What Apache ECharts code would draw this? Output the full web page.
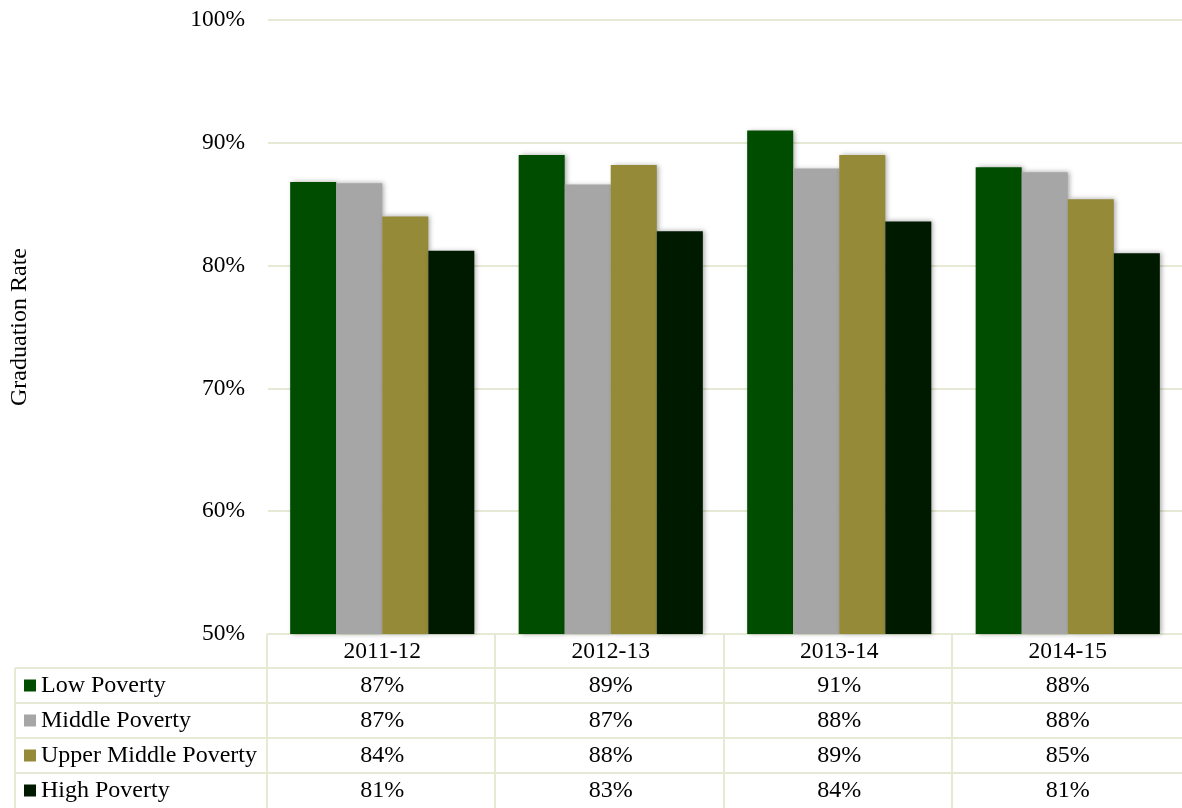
<!DOCTYPE html>
<html>
<head>
<meta charset="utf-8">
<script src="https://cdn.jsdelivr.net/npm/echarts@6/dist/echarts.min.js"></script>
<style>
html,body{margin:0;padding:0;background:#fff;}
#chart{width:1182px;height:808px;}
</style>
</head>
<body>
<div id="chart"></div>
<script>
// ---- data ----
const categories = ['2011-12', '2012-13', '2013-14', '2014-15'];
const seriesNames = ['Low Poverty', 'Middle Poverty', 'Upper Middle Poverty', 'High Poverty'];
const lowPoverty = [86.8, 89.0, 91.0, 88.0];
const middlePoverty = [86.7, 86.6, 87.9, 87.6];
const upperMiddlePoverty = [84.0, 88.2, 89.0, 85.4];
const highPoverty = [81.2, 82.8, 83.6, 81.0];
const yTicks = [50, 60, 70, 80, 90, 100];
const seriesColors = ['#004d00', '#a6a6a6', '#948a38', '#001a00'];

const allSeries = [lowPoverty, middlePoverty, upperMiddlePoverty, highPoverty];
const FONT = "'Liberation Serif', 'Times New Roman', serif";
const LINE = '#e4ead3';

const GRID_LEFT = 265, GRID_TOP = 20, GRID_BOTTOM = 174, GRID_WIDTH = 923;
const ROW_H = 35, TABLE_TOP = 634, HEADER_H = 34, LABEL_LEFT = 15;

const chart = echarts.init(document.getElementById('chart'));
chart.setOption({
  animation: false,
  backgroundColor: '#fff',
  grid: { left: GRID_LEFT, width: GRID_WIDTH, top: GRID_TOP, bottom: GRID_BOTTOM, containLabel: false },
  xAxis: {
    type: 'category',
    data: categories,
    axisLine: { show: true, lineStyle: { color: LINE, width: 2 } },
    axisTick: { show: false },
    axisLabel: { color: '#000', fontFamily: FONT, fontSize: 23.5, margin: 6 }
  },
  yAxis: {
    type: 'value',
    min: yTicks[0],
    max: yTicks[yTicks.length - 1],
    interval: yTicks[1] - yTicks[0],
    name: 'Graduation Rate',
    nameLocation: 'middle',
    nameGap: 236,
    nameRotate: 90,
    nameTextStyle: { color: '#000', fontFamily: FONT, fontSize: 24 },
    axisLine: { show: false },
    axisTick: { show: false },
    splitLine: { lineStyle: { color: LINE, width: 2 } },
    axisLabel: { color: '#000', fontFamily: FONT, fontSize: 23.5, margin: 23, formatter: v => v + '%' }
  },
  series: seriesNames.map((name, i) => ({
    name: name,
    type: 'bar',
    data: allSeries[i],
    barGap: '0%',
    barCategoryGap: '19.4%',
    itemStyle: {
      color: seriesColors[i],
      shadowBlur: 5,
      shadowColor: 'rgba(0,0,0,0.35)',
      shadowOffsetX: 2,
      shadowOffsetY: 0
    }
  }))
});

// ---- data table below the chart ----
const W = 1182;
const graphics = [];
const colCenters = categories.map((c, i) => chart.convertToPixel({ xAxisIndex: 0 }, i));
const catW = GRID_WIDTH / categories.length;
// horizontal lines
for (let r = 0; r < seriesNames.length; r++) {
  const y = TABLE_TOP + HEADER_H + r * ROW_H;
  graphics.push({ type: 'line', shape: { x1: LABEL_LEFT, y1: y, x2: W, y2: y }, style: { stroke: LINE, lineWidth: 2 } });
}
// vertical lines
graphics.push({ type: 'line', shape: { x1: LABEL_LEFT, y1: TABLE_TOP + HEADER_H, x2: LABEL_LEFT, y2: 808 }, style: { stroke: LINE, lineWidth: 2 } });
for (let c = 0; c < categories.length; c++) {
  const x = Math.round(colCenters[c] - catW / 2);
  graphics.push({ type: 'line', shape: { x1: x, y1: TABLE_TOP, x2: x, y2: 808 }, style: { stroke: LINE, lineWidth: 2 } });
}
// row labels and values
seriesNames.forEach((name, r) => {
  const cy = TABLE_TOP + HEADER_H + r * ROW_H + ROW_H / 2;
  graphics.push({ type: 'rect', shape: { x: 24, y: cy - 6, width: 12, height: 12 }, style: { fill: seriesColors[r] } });
  graphics.push({ type: 'text', x: 41, y: cy, style: { text: name, fill: '#000', font: '24px ' + FONT, verticalAlign: 'middle', textVerticalAlign: 'middle' } });
  allSeries[r].forEach((v, c) => {
    graphics.push({ type: 'text', x: colCenters[c], y: cy, style: { text: Math.round(v) + '%', fill: '#000', font: '24px ' + FONT, align: 'center', verticalAlign: 'middle', textAlign: 'center', textVerticalAlign: 'middle' } });
  });
});
chart.setOption({ graphic: graphics });
</script>
</body>
</html>
